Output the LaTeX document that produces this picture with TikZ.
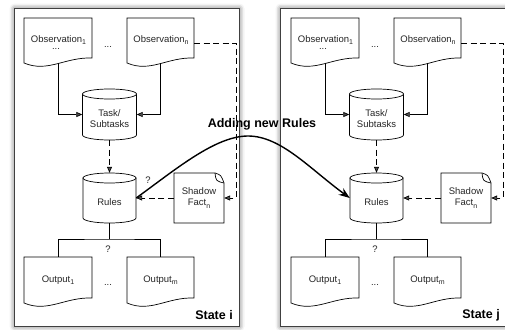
\documentclass[tikz,border=0pt]{standalone}
\usepackage{fontspec}
\setmainfont{Liberation Sans}
\usetikzlibrary{arrows.meta,shadows.blur}

% lowered small index, e.g. Observation_1
\newcommand\idx[1]{\raisebox{-0.5ex}{\fontsize{7}{8}\selectfont #1}}

\tikzset{
  outline/.style={draw=black, line width=0.7pt, fill=white},
  txt/.style={font=\fontsize{9.5}{11}\selectfont, text=black!85, inner sep=0pt, align=center},
  slot/.style={draw=none, inner sep=0pt},
  flow/.style={line width=0.7pt, -{Triangle[length=6pt,width=5pt]}},
  dflow/.style={flow, dash pattern=on 6pt off 3.5pt},
  link/.style={line width=0.7pt},
  curve/.style={line width=1.4pt, -{Stealth[length=11pt,width=8pt]}},
  frame/.style={draw=black!75, line width=1.2pt, fill=white,
    blur shadow={shadow xshift=0pt, shadow yshift=0pt, shadow blur radius=5pt, shadow opacity=65}},
  tag/.style={font=\bfseries\fontsize{12.5}{14}\selectfont, inner sep=0pt},
}

% document sheet with wavy lower edge: x0, top, x1, lower-left y
\newcommand\docshape[4]{%
  \draw[outline] (#1,#2) -- (#3,#2) -- (#3,{#4-5})
    .. controls ({#1+0.6*(#3-#1)},{#4-6}) and ({#1+0.35*(#3-#1)},{#4+10}) .. (#1,#4) -- cycle;}

% upright drum: centre x, top, bottom, width
\newcommand\drum[4]{%
  \draw[outline] ({#1-#4/2},{#2+5}) -- ({#1-#4/2},{#3-5})
    .. controls ({#1-#4/2},{#3-5+0.55*5}) and ({#1-0.55*#4/2},#3) .. (#1,#3)
    .. controls ({#1+0.55*#4/2},#3) and ({#1+#4/2},{#3-5+0.55*5}) .. ({#1+#4/2},{#3-5})
    -- ({#1+#4/2},{#2+5}) -- cycle;
  \draw[outline] (#1,{#2+5}) ellipse [x radius=#4/2, y radius=5];}

% sheet with a dog-eared upper right corner: x0, top, x1, bottom
\newcommand\foldshape[4]{%
  \draw[outline] (#1,#2) -- ({#3-9},#2) .. controls ({#3-3},{#2+2}) .. (#3,{#2+10})
    -- (#3,#4) -- (#1,#4) -- cycle;
  \draw[link] ({#3-9},#2) .. controls ({#3-8},{#2+8}) .. (#3,{#2+10});}

% one state: x offset, node name prefix, caption
\newcommand\statepanel[3]{%
\begin{scope}[xshift=#1pt]
  \docshape{24}{18}{92}{63}
  \docshape{127}{18}{194}{63}
  \node[slot, minimum width=68pt, minimum height=45pt] (#2obsa) at (58,40.5) {};
  \node[slot, minimum width=67pt, minimum height=45pt] (#2obsb) at (160.5,40.5) {};
  \node[txt] (#2obsatext) at (58.5,40) {Observation\idx{1}};
  \node[txt] (#2obsbtext) at (161,40) {Observation\idx{n}};
  \node[txt] (#2dotsa) at (56,48.5) {...};
  \node[txt] (#2dotsb) at (108,47) {...};

  \drum{109.5}{89}{140}{54}
  \node[slot, minimum width=54pt, minimum height=51pt] (#2task) at (109.5,114.5) {};
  \node[txt] (#2tasktext) at (109.5,118.5) {Task/\\Subtasks};

  \drum{109.5}{173}{223}{53}
  \node[slot, minimum width=53pt, minimum height=50pt] (#2rules) at (109.5,198) {};
  \node[txt] (#2rulestext) at (109.5,202) {Rules};

  \foldshape{174}{173}{224}{223}
  \node[slot, txt, minimum width=50pt, minimum height=50pt] (#2fact) at (199,198) {Shadow\\Fact\idx{n}};

  \docshape{24}{257}{92}{303}
  \docshape{127}{257}{194}{303}
  \node[slot, txt, minimum width=68pt, minimum height=46pt] (#2outa) at (58,280) {Output\idx{1}};
  \node[slot, txt, minimum width=67pt, minimum height=46pt] (#2outb) at (160.5,280) {Output\idx{m}};
  \node[txt] (#2dotsc) at (108,285) {...};
  \node[txt] (#2ask) at (108,249) {?};

  \coordinate (#2bend) at (236,43);
  \coordinate (#2split) at (109.5,239);

  \draw[flow] (#2obsa.south) |- (#2task.west);
  \draw[flow] (#2obsb.south) |- (#2task.east);
  \draw[dflow] (#2task.south) -- (#2rules.north);
  \draw[dflow] (#2fact.west) -- (#2rules.east);
  \draw[dflow] (#2obsb.east |- #2bend) -- (#2bend) |- (#2fact.east);
  \draw[link] (#2rules.south) -- (#2split);
  \draw[link] (#2outa.north) |- (#2split) -| (#2outb.north);

  \node[tag, anchor=east] (#2caption) at (233,315) {#3};
\end{scope}}

\begin{document}
\begin{tikzpicture}[x=1pt, y=-1pt]
  \useasboundingbox (0,0) rectangle (505,329);

  \draw[frame] (14.5,8.5) rectangle (239.5,326.5);
  \draw[frame] (280.5,8.5) rectangle (512,326.5);

  \statepanel{0}{L}{State i}
  \statepanel{267}{R}{State j}

  \node[txt] (Lguess) at (148,180) {?};

  \coordinate (peak) at (248,136);
  \draw[curve] (Lrules.east) .. controls (175,170) and (215,136) .. (peak)
    .. controls (281,136) and (310,169) .. (Rrules.west);
  \node[tag] (adding) at (262,124) {Adding new Rules};
\end{tikzpicture}
\end{document}
